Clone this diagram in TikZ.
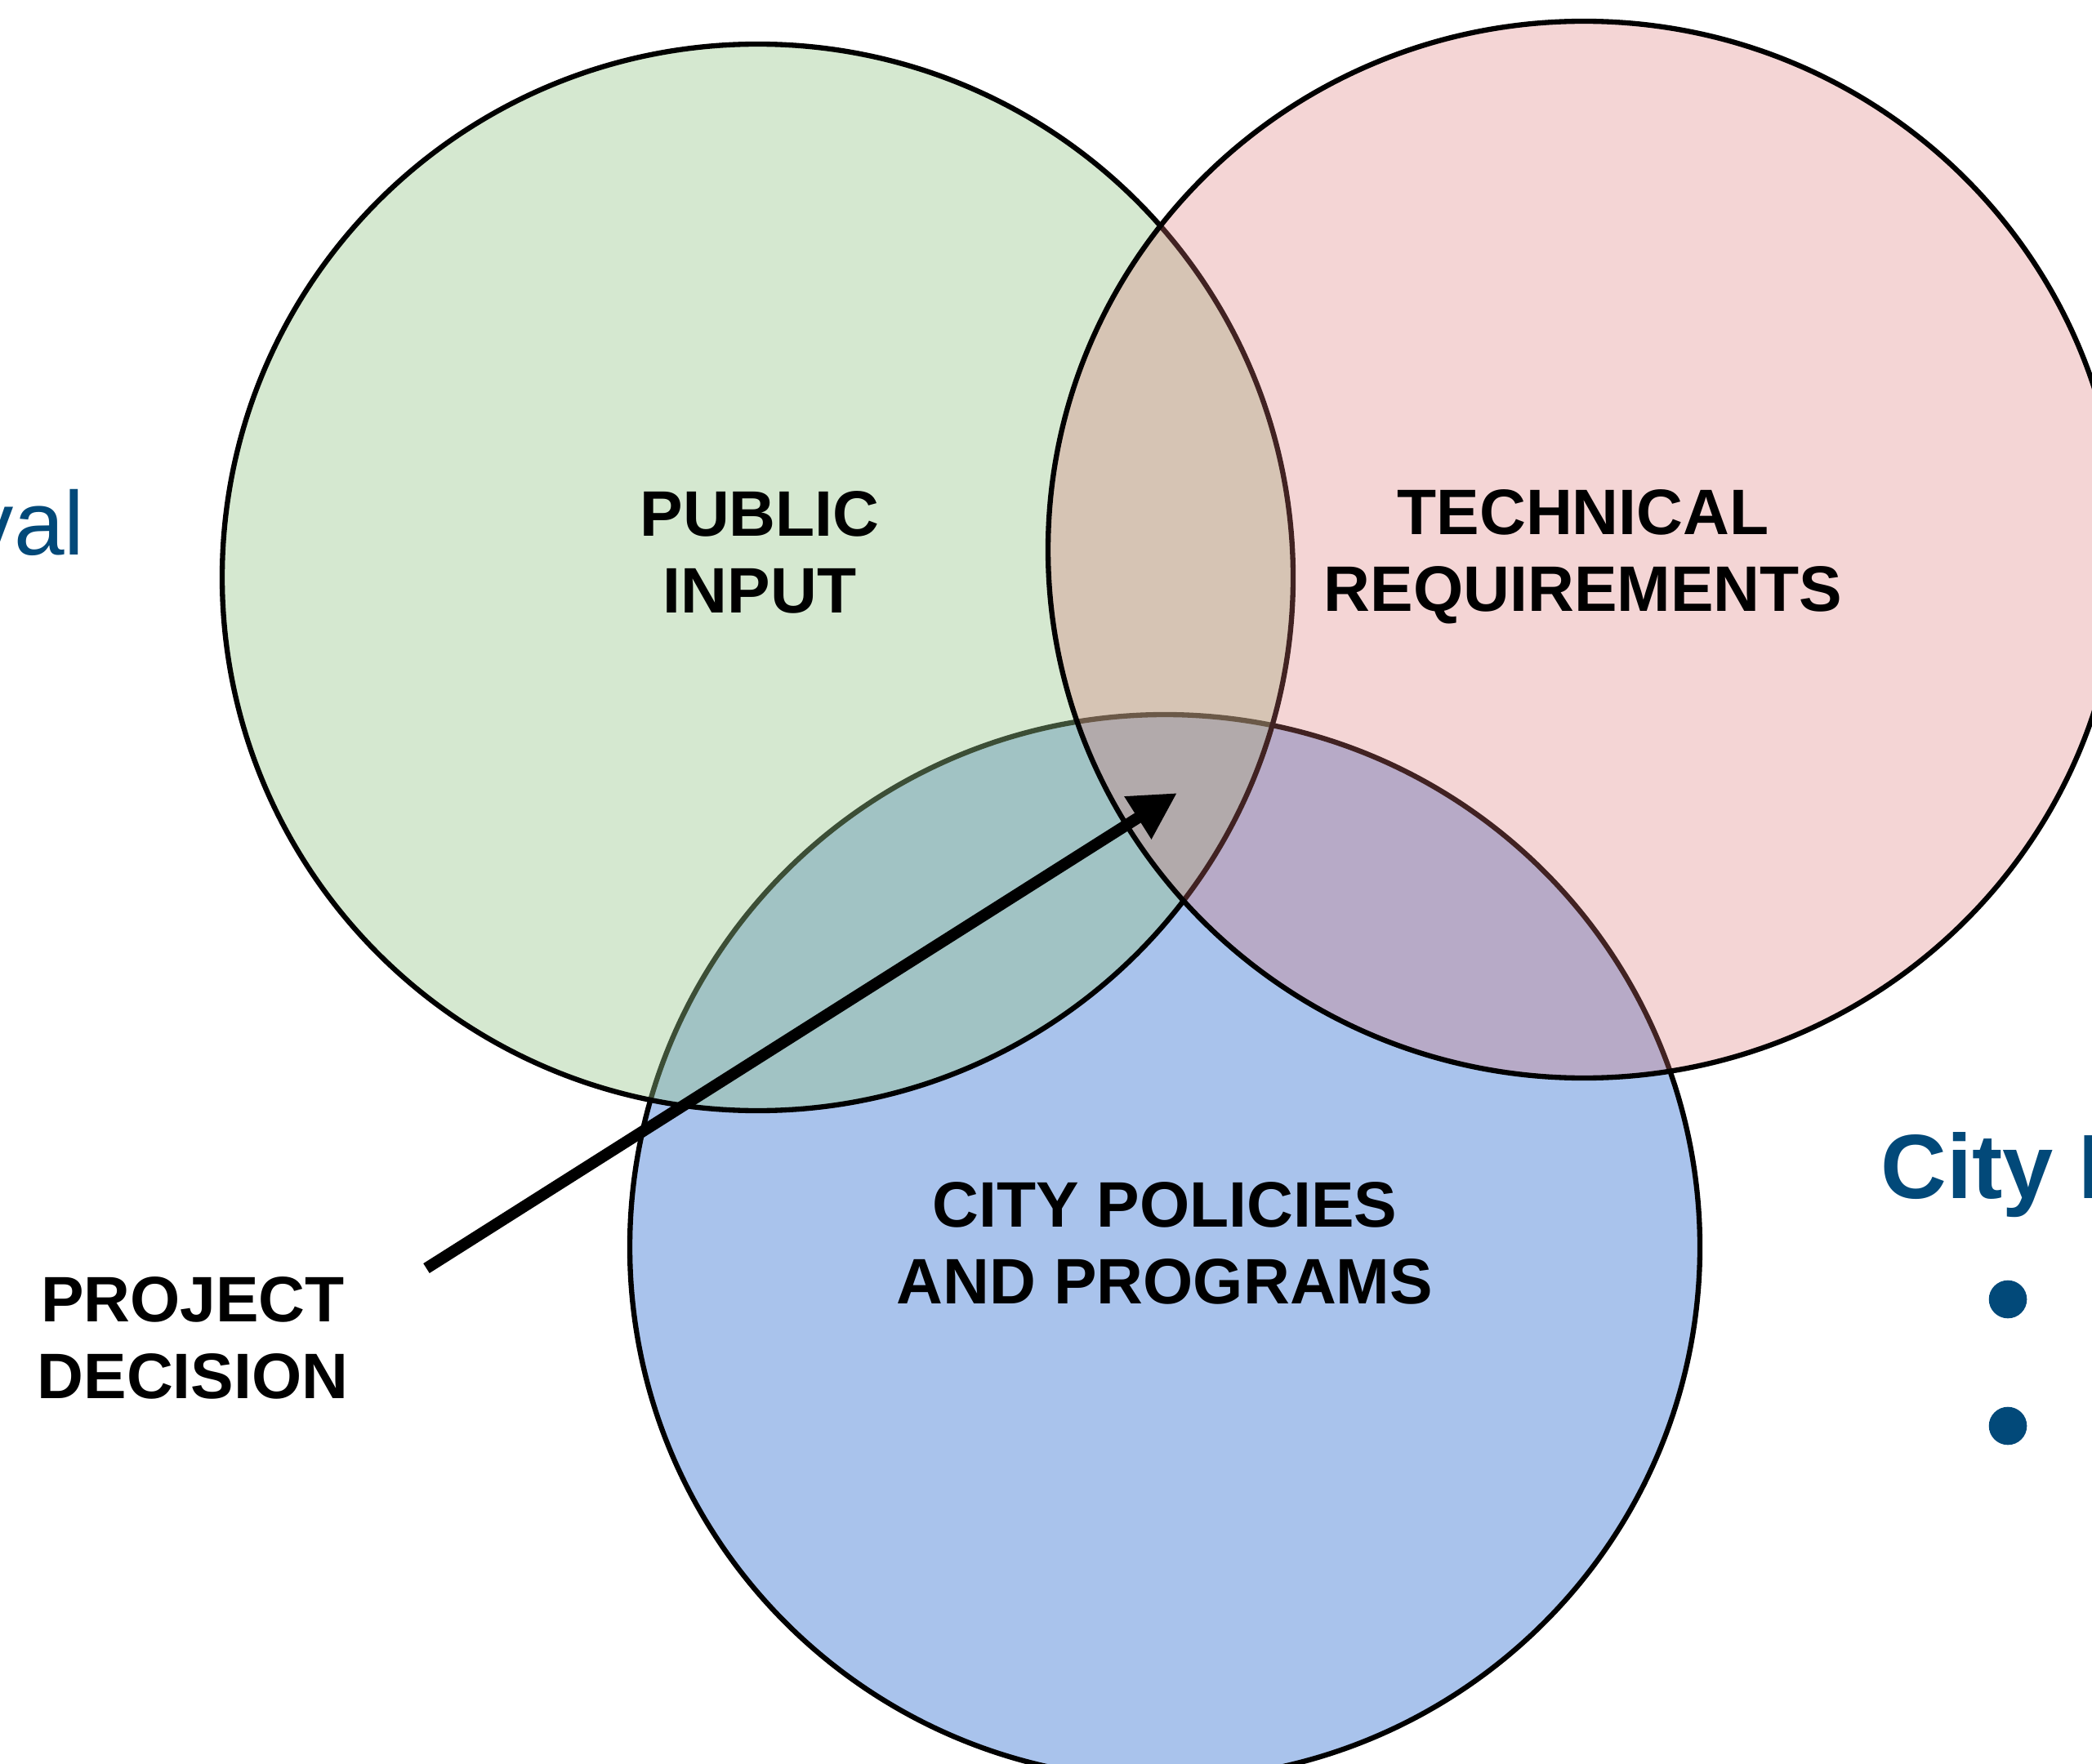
\documentclass[tikz,border=0pt]{standalone}
\usepackage{fontspec}
\setmainfont{Liberation Sans}
\usepackage{tikz}
\usetikzlibrary{arrows.meta}

\definecolor{venngreen}{RGB}{150,197,137}
\definecolor{vennpink}{RGB}{218,115,115}
\definecolor{vennblue}{RGB}{169,195,236}
\definecolor{cityblue}{RGB}{2,73,121}

\begin{document}
\begin{tikzpicture}[
    every node/.style={inner sep=0pt},
    label/.style={font=\fontsize{22.4}{26.7}\selectfont\bfseries, align=center},
    ring/.style={draw=black, line width=1.8pt}
]
\useasboundingbox (0,0) rectangle (25.61,-21.60);

% Circles
\draw[ring, fill=vennblue] (14.26,-15.27) ellipse (6.55 and 6.52);
\draw[ring, fill=venngreen, fill opacity=0.4] (9.275,-7.07) ellipse (6.555 and 6.53);
\draw[ring, fill=vennpink, fill opacity=0.3] (19.39,-6.73) ellipse (6.56 and 6.47);

% Labels
\node[label] (public) at (9.30,-6.765) {PUBLIC\\INPUT};
\node[label] (technical) at (19.38,-6.82) {TECHNICAL\\REQUIREMENTS};
\node[label] (policies) at (14.26,-15.225) {CITY POLICIES\\AND PROGRAMS};
\node[label] (decision) at (2.36,-16.38) {PROJECT\\DECISION};

% Arrow
\coordinate (tail) at (5.22,-15.53);
\coordinate (tip) at (14.41,-9.71);
\draw[line width=4pt, -{Triangle[length=0.57cm, width=0.58cm]}] (tail) -- (tip);

% Side text
\node[font=\fontsize{31.5}{36}\selectfont, text=cityblue, anchor=base east] (approval) at (1.04,-6.80) {val};
\node[font=\fontsize{31.8}{36}\selectfont\bfseries, text=cityblue, anchor=base west] (cityhead) at (23.02,-14.67) {City P};
\node[circle, fill=cityblue, minimum size=0.466cm] (bulletone) at (24.58,-15.91) {};
\node[circle, fill=cityblue, minimum size=0.466cm] (bullettwo) at (24.58,-17.46) {};

\end{tikzpicture}
\end{document}
